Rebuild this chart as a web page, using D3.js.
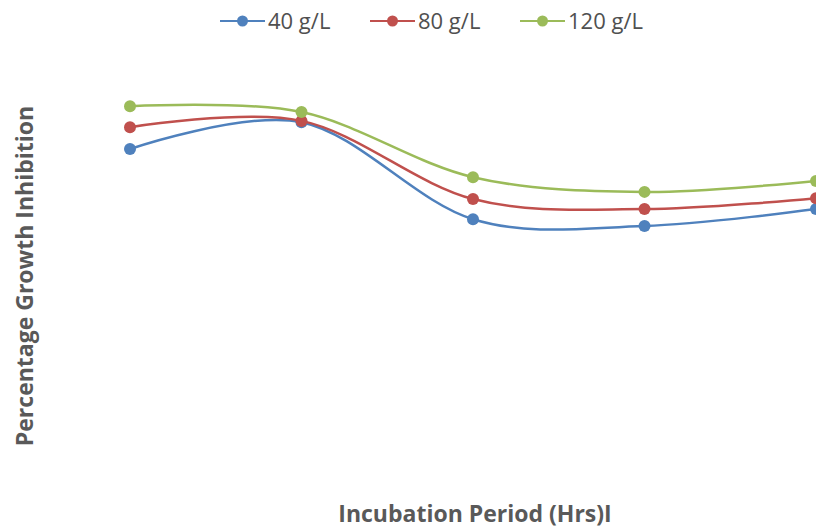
<!DOCTYPE html>
<html>
<head>
<meta charset="utf-8">
<script src="https://cdn.jsdelivr.net/npm/d3@7"></script>
<style>
  body { margin: 0; background: #fff; }
  svg { display: block; font-family: "Open Sans", "Noto Sans", sans-serif; }
</style>
</head>
<body>
<svg id="chart" width="816" height="530"></svg>
<script>
// Incubation periods (hrs) - axis labels are not shown in the picture
const periods = ["24", "48", "72", "96", "120"];
const seriesNames = ["40 g/L", "80 g/L", "120 g/L"];
const colors = ["#4F81BD", "#C0504D", "#9BBB59"];

// Percentage growth inhibition
const inhibition40 = [78.8, 85.2, 62.1, 60.5, 64.5];
const inhibition80 = [84.0, 85.5, 66.9, 64.5, 67.1];
const inhibition120 = [89.0, 87.6, 72.1, 68.6, 71.2];

const svg = d3.select("#chart");

const x = d3.scalePoint()
    .domain(periods)
    .range([130, 816]);

const y = d3.scaleLinear()
    .domain([0, 100])
    .range([480, 60]);

const series = [inhibition40, inhibition80, inhibition120].map((vals, i) => ({
    name: seriesNames[i],
    color: colors[i],
    values: vals.map((v, j) => ({ period: periods[j], value: v }))
}));

const line = d3.line()
    .x(d => x(d.period))
    .y(d => y(d.value))
    .curve(d3.curveCardinal.tension(0));

const g = svg.append("g");

series.forEach(s => {
    g.append("path")
        .datum(s.values)
        .attr("fill", "none")
        .attr("stroke", s.color)
        .attr("stroke-width", 2.5)
        .attr("d", line);

    g.selectAll(null)
        .data(s.values)
        .enter()
        .append("circle")
        .attr("cx", d => x(d.period))
        .attr("cy", d => y(d.value))
        .attr("r", 6)
        .attr("fill", s.color);
});

// Legend
const legendX = [220, 370, 520];
const legend = svg.append("g");
series.forEach((s, i) => {
    const lg = legend.append("g").attr("transform", `translate(${legendX[i]},21)`);
    lg.append("line")
        .attr("x1", 0).attr("x2", 45)
        .attr("stroke", s.color)
        .attr("stroke-width", 2.2);
    lg.append("circle")
        .attr("cx", 22.5)
        .attr("r", 5.5)
        .attr("fill", s.color);
    lg.append("text")
        .attr("x", 48)
        .attr("dy", "0.35em")
        .style("font-size", "22px")
        .style("fill", "#505050")
        .text(s.name);
});

// Axis titles
svg.append("text")
    .attr("transform", "translate(33,276) rotate(-90)")
    .attr("text-anchor", "middle")
    .style("font-size", "23px")
    .style("font-weight", "bold")
    .style("fill", "#595959")
    .text("Percentage Growth Inhibition");

svg.append("text")
    .attr("x", 475)
    .attr("y", 522)
    .attr("text-anchor", "middle")
    .style("font-size", "23px")
    .style("font-weight", "bold")
    .style("fill", "#595959")
    .text("Incubation Period (Hrs)I");
</script>
</body>
</html>
